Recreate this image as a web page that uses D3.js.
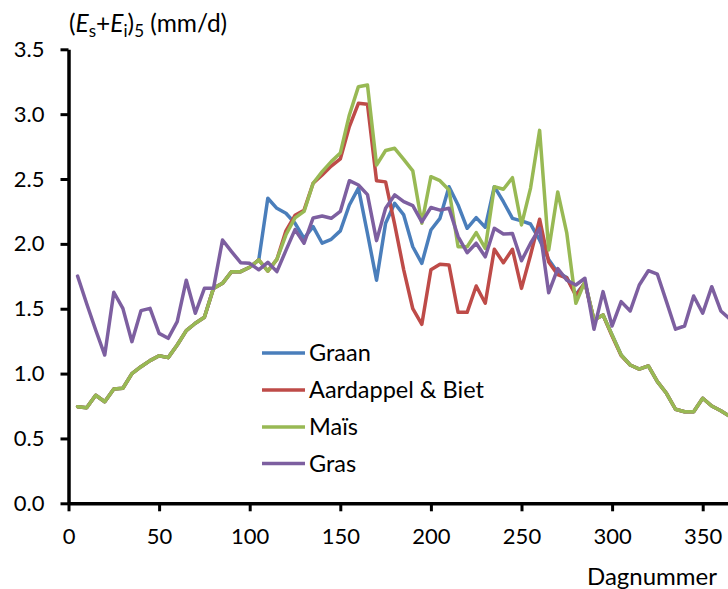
<!DOCTYPE html>
<html><head><meta charset="utf-8">
<script src="https://cdn.jsdelivr.net/npm/d3@7"></script>
<style>
html,body{margin:0;padding:0;background:#fff;}
svg text{font-family:Lato,"Open Sans",sans-serif;fill:#000;}
</style></head>
<body><svg id="c" width="728" height="589"></svg>
<script>
const days = [5,10,15,20,25,30,35,40,45,50,55,60,65,70,75,80,85,90,95,100,105,110,115,120,125,130,135,140,145,150,155,160,165,170,175,180,185,190,195,200,205,210,215,220,225,230,235,240,245,250,255,260,265,270,275,280,285,290,295,300,305,310,315,320,325,330,335,340,345,350,355,360,365];
const graan = [0.745,0.737,0.833,0.783,0.881,0.887,1.00,1.053,1.10,1.138,1.123,1.22,1.331,1.388,1.434,1.657,1.696,1.786,1.786,1.82,1.876,2.352,2.274,2.236,2.159,2.043,2.133,2.005,2.035,2.10,2.30,2.43,2.08,1.72,2.159,2.313,2.223,1.978,1.85,2.107,2.197,2.441,2.30,2.12,2.202,2.128,2.441,2.325,2.197,2.177,2.153,2.03,1.88,1.78,1.74,1.61,1.70,1.413,1.452,1.298,1.143,1.066,1.035,1.059,0.938,0.848,0.725,0.706,0.706,0.81,0.75,0.714,0.67];
const aardappel = [0.745,0.737,0.833,0.783,0.881,0.887,1.00,1.053,1.10,1.138,1.123,1.22,1.331,1.388,1.434,1.657,1.696,1.786,1.786,1.82,1.876,1.79,1.88,2.10,2.22,2.26,2.467,2.531,2.60,2.655,2.904,3.084,3.076,2.487,2.478,2.15,1.80,1.50,1.38,1.80,1.843,1.837,1.472,1.472,1.675,1.542,1.958,1.855,1.958,1.657,1.914,2.19,1.86,1.763,1.737,1.60,1.70,1.413,1.452,1.29,1.14,1.066,1.035,1.059,0.938,0.848,0.725,0.706,0.706,0.81,0.75,0.714,0.67];
const mais = [0.745,0.737,0.833,0.783,0.881,0.887,1.00,1.053,1.10,1.138,1.123,1.22,1.331,1.388,1.434,1.657,1.696,1.786,1.786,1.82,1.876,1.79,1.88,2.07,2.20,2.25,2.467,2.557,2.634,2.70,2.994,3.212,3.225,2.608,2.72,2.737,2.652,2.563,2.159,2.518,2.487,2.416,1.978,1.978,2.087,1.966,2.441,2.421,2.51,2.146,2.43,2.875,1.953,2.40,2.082,1.542,1.709,1.413,1.452,1.298,1.143,1.066,1.035,1.059,0.938,0.848,0.725,0.706,0.706,0.81,0.75,0.714,0.67];
const gras = [1.752,1.54,1.336,1.143,1.627,1.503,1.246,1.485,1.503,1.31,1.272,1.40,1.72,1.465,1.657,1.657,2.03,1.94,1.855,1.85,1.80,1.858,1.786,1.95,2.11,2.005,2.20,2.215,2.197,2.25,2.487,2.454,2.38,2.025,2.274,2.377,2.325,2.295,2.17,2.28,2.26,2.274,2.056,1.932,2.005,1.90,2.12,2.076,2.08,1.87,2.005,2.12,1.624,1.81,1.72,1.683,1.735,1.342,1.632,1.367,1.555,1.483,1.683,1.793,1.766,1.555,1.342,1.367,1.598,1.465,1.67,1.483,1.42];
const seriesNames = ["Graan","Aardappel & Biet","Maïs","Gras"];
const seriesColors = ["#4A7EBB","#BE4B48","#98B954","#7D5FA0"];
const xTicks = [0,50,100,150,200,250,300,350];
const yTicks = [0,0.5,1.0,1.5,2.0,2.5,3.0,3.5];

const svg = d3.select("#c");
const x = d3.scaleLinear().domain([0,365]).range([68.5, 68.5+365*1.812]);
const y = d3.scaleLinear().domain([0,3.5]).range([503.3, 49.3]);

// lines
const seriesData = [graan, aardappel, mais, gras];
const line = d3.line().x((d,i)=>x(days[i])).y(d=>y(d));
seriesData.forEach((s,k)=>{
  svg.append("path").datum(s).attr("d", line)
    .attr("fill","none").attr("stroke",seriesColors[k])
    .attr("stroke-width",3.5).attr("stroke-linejoin","round").attr("stroke-linecap","round");
});

// y axis
const yAxis = svg.append("g").attr("transform","translate(68.5,0)")
  .call(d3.axisLeft(y).tickValues(yTicks).tickFormat(d3.format(".1f")).tickSize(8).tickSizeOuter(0).tickPadding(16));
yAxis.select(".domain").attr("stroke","#000").attr("stroke-width",3.5);
yAxis.selectAll(".tick line").attr("stroke","#000").attr("stroke-width",3);
yAxis.selectAll(".tick text").attr("font-size",22).attr("font-family","Lato");

// x axis
const xAxis = svg.append("g").attr("transform","translate(0,503.3)")
  .call(d3.axisBottom(x).tickValues(xTicks).tickFormat(d3.format("d")).tickSize(8).tickSizeOuter(0).tickPadding(17));
xAxis.select(".domain").attr("stroke","#000").attr("stroke-width",3.5);
xAxis.selectAll(".tick line").attr("stroke","#000").attr("stroke-width",3);
xAxis.selectAll(".tick text").attr("font-size",22).attr("font-family","Lato");

// axis titles
const t = svg.append("text").attr("x",69).attr("y",32).attr("font-size",24.5);
t.append("tspan").text("(");
t.append("tspan").attr("font-style","italic").text("E");
t.append("tspan").attr("font-size",17).attr("dy",5).text("s");
t.append("tspan").attr("dy",-5).text("+");
t.append("tspan").attr("font-style","italic").text("E");
t.append("tspan").attr("font-size",17).attr("dy",5).text("i");
t.append("tspan").attr("dy",-5).text(")");
t.append("tspan").attr("font-size",17).attr("dy",5).text("5");
t.append("tspan").attr("dy",-5).text(" (mm/d)");

svg.append("text").attr("x",717).attr("y",585).attr("text-anchor","end").attr("font-size",24).text("Dagnummer");

// legend
const legY = [353, 390, 427, 463.5];
seriesNames.forEach((n,k)=>{
  svg.append("line").attr("x1",262).attr("x2",305).attr("y1",legY[k]).attr("y2",legY[k])
    .attr("stroke",seriesColors[k]).attr("stroke-width",3.5);
  svg.append("text").attr("x",309).attr("y",legY[k]).attr("dy","0.36em").attr("font-size",23.5).text(n);
});
</script></body></html>
